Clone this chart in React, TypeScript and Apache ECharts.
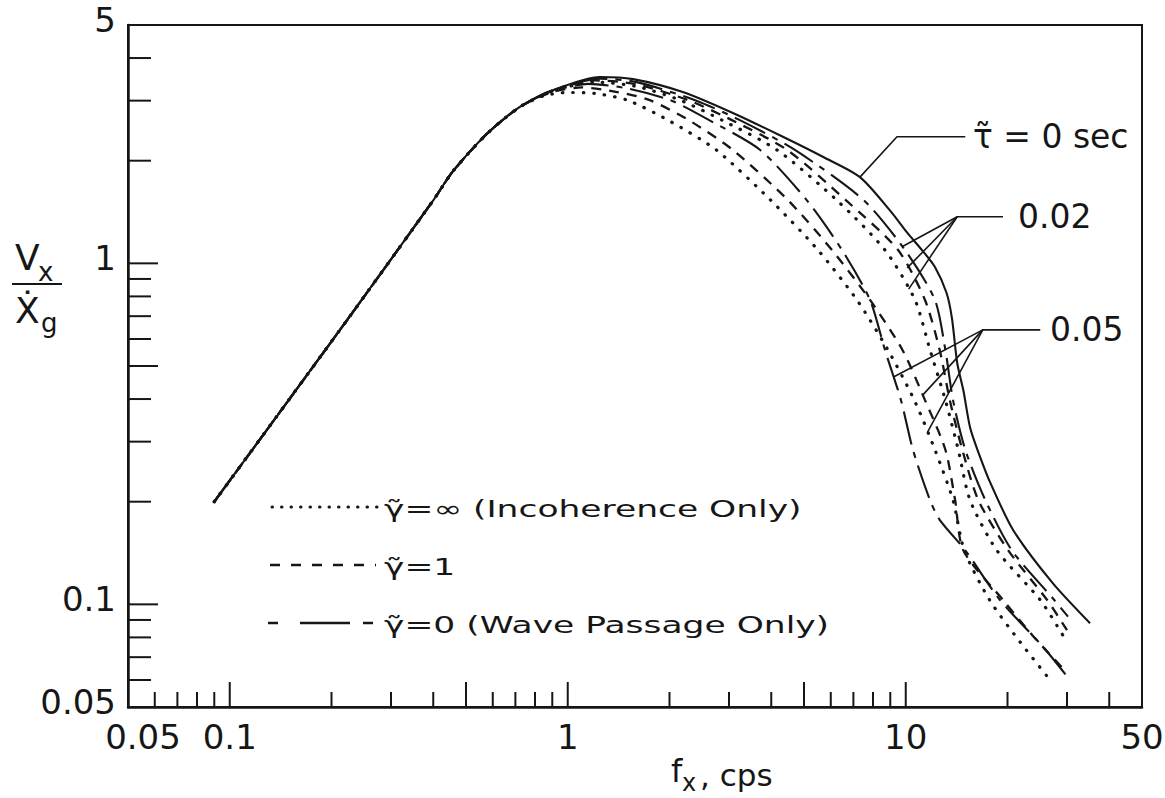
import React, { useEffect, useRef } from 'react';
import * as echarts from 'echarts';

// Response ratio V_x / Ẋ_g against frequency f_x (cps), as [f, ratio] pairs.
// All curves share the low-frequency rise, then split by delay τ̃ and coherence γ̃.
const SHARED_RISE: number[][] = [
  [0.09, 0.2], [0.222, 0.68], [0.4, 1.53], [0.457, 1.86], [0.577, 2.4], [0.72, 2.87],
];

const TAU_0: number[][] = [
  [0.905, 3.22], [1.245, 3.52], [1.56, 3.47], [2.19, 3.18], [3.08, 2.76], [4.33, 2.35],
  [5.7, 2.05], [7.32, 1.79], [8.98, 1.43], [10.1, 1.23], [11.2, 1.09], [12.2, 0.976],
  [13.2, 0.82], [13.7, 0.69], [14.2, 0.51], [14.8, 0.425], [15.5, 0.33], [16.3, 0.284],
  [17.8, 0.227], [20.8, 0.165], [27.3, 0.115], [35.1, 0.088],
];

const TAU_002_GAMMA_0: number[][] = [
  [0.9, 3.22], [1.25, 3.48], [1.6, 3.4], [2.38, 3.01], [3.23, 2.63], [4.7, 2.15],
  [7.52, 1.53], [9.95, 1.094], [12.2, 0.781], [13.1, 0.557], [13.8, 0.397], [15.0, 0.284],
  [17.2, 0.202], [20.6, 0.144], [27.5, 0.103], [30.2, 0.092],
];

const TAU_002_GAMMA_1: number[][] = [
  [0.9, 3.21], [1.2, 3.44], [1.6, 3.35], [2.27, 3.01], [3.06, 2.63], [4.46, 2.15],
  [6.66, 1.53], [9.49, 1.094], [11.4, 0.781], [12.6, 0.557], [13.5, 0.397], [14.7, 0.284],
  [16.4, 0.202], [20.1, 0.144], [26.2, 0.103], [30.0, 0.084],
];

const TAU_002_GAMMA_INF: number[][] = [
  [0.9, 3.2], [1.2, 3.4], [1.6, 3.3], [2.15, 3.01], [2.86, 2.63], [4.16, 2.15],
  [6.26, 1.53], [8.68, 1.094], [10.65, 0.781], [11.8, 0.557], [13.1, 0.397], [14.3, 0.284],
  [15.5, 0.202], [18.6, 0.144], [25.0, 0.103], [29.2, 0.081],
];

const TAU_005_GAMMA_0: number[][] = [
  [0.9, 3.2], [1.15, 3.36], [1.5, 3.26], [2.01, 3.01], [2.62, 2.63], [3.71, 2.15],
  [5.1, 1.53], [6.48, 1.094], [7.84, 0.781], [8.68, 0.557], [9.68, 0.397], [10.5, 0.284],
  [11.8, 0.202], [12.6, 0.177], [15.0, 0.144], [19.0, 0.103], [25.5, 0.075], [30.2, 0.061],
];

const TAU_005_GAMMA_1: number[][] = [
  [0.9, 3.18], [1.1, 3.28], [1.4, 3.18], [1.75, 3.01], [2.28, 2.63], [3.08, 2.15],
  [4.49, 1.53], [6.05, 1.094], [7.84, 0.781], [9.78, 0.557], [11.4, 0.397], [13.1, 0.284],
  [14.0, 0.202], [14.8, 0.144], [19.4, 0.103], [24.0, 0.08], [30.0, 0.063],
];

const TAU_005_GAMMA_INF: number[][] = [
  [0.85, 3.1], [1.0, 3.17], [1.2, 3.15], [1.5, 3.01], [1.98, 2.63], [2.75, 2.15],
  [3.99, 1.53], [5.5, 1.094], [7.17, 0.781], [8.86, 0.557], [10.6, 0.397], [12.2, 0.284],
  [13.8, 0.202], [14.9, 0.144], [17.7, 0.103], [21.8, 0.0775], [27.1, 0.059],
];

// Axis ranges, ticks and tick labels
const X_MIN = 0.05;
const X_MAX = 50;
const Y_MIN = 0.05;
const Y_MAX = 5;
const X_MAJOR_TICKS = [0.1, 0.5, 1, 5, 10];
const X_MINOR_TICKS = [0.06, 0.07, 0.08, 0.09, 0.2, 0.3, 0.4, 0.6, 0.7, 0.8, 0.9, 2, 3, 4, 6, 7, 8, 9, 20, 30, 40];
const Y_MAJOR_TICKS = [0.1, 0.5, 1];
const Y_MINOR_TICKS = [0.06, 0.07, 0.08, 0.09, 0.2, 0.3, 0.4, 0.6, 0.7, 0.8, 0.9, 2, 3, 4];
const X_TICK_LABELS = [0.05, 0.1, 1, 10, 50];
const Y_TICK_LABELS = [0.05, 0.1, 1, 5];

// Key and delay annotations
const LEGEND_LABELS = ['\u03B3\u0303=\u221E (Incoherence Only)', '\u03B3\u0303=1', '\u03B3\u0303=0 (Wave Passage Only)'];
const TAU_LABELS = ['\u03C4\u0303 = 0 sec', '0.02', '0.05'];
const TAU_LABEL_ANCHORS: number[][] = [[15.8, 2.35], [21.5, 1.37], [26.7, 0.638]];
const TAU_LEADERS: number[][][] = [
  [[7.32, 1.79], [9.42, 2.35], [15.0, 2.35]],
  [[19.4, 1.37], [14.2, 1.37], [9.78, 1.12]],
  [[14.2, 1.37], [10.1, 0.97]],
  [[14.2, 1.37], [10.2, 0.84]],
  [[25.0, 0.638], [16.9, 0.638], [9.2, 0.464]],
  [[16.9, 0.638], [11.2, 0.41]],
  [[16.9, 0.638], [11.6, 0.32]],
];

const INK = '#161616';
const FONT = '"DejaVu Sans", "Noto Sans", sans-serif';

const LINE_STYLES: Record<string, any> = {
  solid: { type: 'solid', width: 2.1 },
  dotted: { type: [0.5, 10], width: 3.2, cap: 'round' },
  dashed: { type: [10, 8], width: 2.3 },
  dashDot: { type: [34, 8, 6, 8], width: 2.1 },
};

const CURVES = [
  { name: 'τ=0', data: TAU_0, style: 'solid' },
  { name: 'τ=0.02 γ=0', data: TAU_002_GAMMA_0, style: 'dashDot' },
  { name: 'τ=0.02 γ=1', data: TAU_002_GAMMA_1, style: 'dashed' },
  { name: 'τ=0.02 γ=∞', data: TAU_002_GAMMA_INF, style: 'dotted' },
  { name: 'τ=0.05 γ=0', data: TAU_005_GAMMA_0, style: 'dashDot' },
  { name: 'τ=0.05 γ=1', data: TAU_005_GAMMA_1, style: 'dashed' },
  { name: 'τ=0.05 γ=∞', data: TAU_005_GAMMA_INF, style: 'dotted' },
];

function formatTick(v: number): string {
  return String(v);
}

function tickSeries(values: number[], axis: 'x' | 'y', len: number) {
  return {
    type: 'custom',
    silent: true,
    z: 6,
    data: values.map((v) => (axis === 'x' ? [v, Y_MIN] : [X_MIN, v])),
    renderItem: (_params: any, api: any) => {
      const p = api.coord([api.value(0), api.value(1)]);
      const shape = axis === 'x'
        ? { x1: p[0], y1: p[1], x2: p[0], y2: p[1] - len }
        : { x1: p[0], y1: p[1], x2: p[0] + len, y2: p[1] };
      return { type: 'line', shape, style: { stroke: INK, lineWidth: 2 } };
    },
  };
}

function tickLabelSeries(values: number[], axis: 'x' | 'y') {
  return {
    type: 'custom',
    silent: true,
    z: 6,
    data: values.map((v) => (axis === 'x' ? [v, Y_MIN] : [X_MIN, v])),
    renderItem: (params: any, api: any) => {
      const p = api.coord([api.value(0), api.value(1)]);
      const v = values[params.dataIndex];
      if (axis === 'x') {
        const shift = v === X_MIN ? 15 : 0;
        return {
          type: 'text',
          x: p[0] + shift,
          y: p[1] + 30,
          style: {
            text: formatTick(v), fill: INK, fontSize: 34, fontFamily: FONT,
            align: 'center', verticalAlign: 'middle', textAlign: 'center', textVerticalAlign: 'middle',
          },
        };
      }
      return {
        type: 'text',
        x: p[0] - 12,
        y: p[1] - 5,
        style: {
          text: formatTick(v), fill: INK, fontSize: 34, fontFamily: FONT,
          align: 'right', verticalAlign: 'middle', textAlign: 'right', textVerticalAlign: 'middle',
        },
      };
    },
  };
}

function buildOption() {
  const curveSeries = CURVES.map((c, i) => ({
    type: 'line',
    name: c.name,
    data: SHARED_RISE.concat(c.data),
    showSymbol: false,
    smooth: 0.25,
    silent: true,
    z: i === 0 ? 4 : 3,
    lineStyle: { color: INK, ...LINE_STYLES[c.style] },
  }));

  const leaderSeries = TAU_LEADERS.map((pts) => ({
    type: 'line',
    data: pts,
    showSymbol: false,
    silent: true,
    z: 3,
    lineStyle: { color: INK, width: 1.6, type: 'solid' },
  }));

  const tauLabelSeries = {
    type: 'custom',
    silent: true,
    z: 6,
    data: TAU_LABEL_ANCHORS,
    renderItem: (params: any, api: any) => {
      const p = api.coord([api.value(0), api.value(1)]);
      return {
        type: 'text',
        x: p[0],
        y: p[1],
        style: {
          text: TAU_LABELS[params.dataIndex], fill: INK, fontSize: 33, fontFamily: FONT,
          align: 'left', verticalAlign: 'middle', textAlign: 'left', textVerticalAlign: 'middle',
        },
      };
    },
  };

  const legendText = (text: string, y: number) => ({
    type: 'text',
    x: 384,
    y,
    scaleX: 1.5,
    style: {
      text, fill: INK, fontSize: 23, fontFamily: FONT,
      align: 'left', verticalAlign: 'middle', textAlign: 'left', textVerticalAlign: 'middle',
    },
  });

  const plainText = (text: string, x: number, y: number, size: number) => ({
    type: 'text',
    x,
    y,
    style: {
      text, fill: INK, fontSize: size, fontFamily: FONT,
      align: 'left', verticalAlign: 'middle', textAlign: 'left', textVerticalAlign: 'middle',
    },
  });

  return {
    animation: false,
    backgroundColor: '#ffffff',
    grid: {
      left: 128, top: 25, right: 23, bottom: 91,
      show: true, borderColor: INK, borderWidth: 2, containLabel: false, outerBoundsMode: 'none',
    },
    xAxis: {
      type: 'log', logBase: 10, min: X_MIN, max: X_MAX,
      axisLine: { show: true, lineStyle: { color: INK, width: 2.5 } },
      axisTick: { show: false }, axisLabel: { show: false },
      splitLine: { show: false }, minorTick: { show: false }, minorSplitLine: { show: false },
    },
    yAxis: {
      type: 'log', logBase: 10, min: Y_MIN, max: Y_MAX,
      axisLine: { show: true, lineStyle: { color: INK, width: 2.5 } },
      axisTick: { show: false }, axisLabel: { show: false },
      splitLine: { show: false }, minorTick: { show: false }, minorSplitLine: { show: false },
    },
    series: [
      ...curveSeries,
      ...leaderSeries,
      tauLabelSeries,
      tickSeries(X_MAJOR_TICKS, 'x', 25),
      tickSeries(X_MINOR_TICKS, 'x', 15),
      tickSeries(Y_MAJOR_TICKS, 'y', 30),
      tickSeries(Y_MINOR_TICKS, 'y', 23),
      tickLabelSeries(X_TICK_LABELS, 'x'),
      tickLabelSeries(Y_TICK_LABELS, 'y'),
    ],
    graphic: [
      // key samples
      { type: 'line', shape: { x1: 272, y1: 507, x2: 380, y2: 507 }, style: { stroke: INK, lineWidth: 3, lineDash: [0.5, 9], lineCap: 'round' } },
      { type: 'line', shape: { x1: 270, y1: 565, x2: 376, y2: 565 }, style: { stroke: INK, lineWidth: 2.3, lineDash: [10, 11] } },
      { type: 'line', shape: { x1: 268, y1: 623, x2: 373, y2: 623 }, style: { stroke: INK, lineWidth: 2.3, lineDash: [10, 22, 50, 13, 10, 60] } },
      legendText(LEGEND_LABELS[0], 509),
      legendText(LEGEND_LABELS[1], 567),
      legendText(LEGEND_LABELS[2], 625),
      // vertical axis title: V_x over Ẋ_g
      plainText('V', 15, 257, 36),
      plainText('x', 38, 272, 26),
      { type: 'line', shape: { x1: 12, y1: 284, x2: 62, y2: 284 }, style: { stroke: INK, lineWidth: 2 } },
      plainText('\u1E8A', 15, 310, 36),
      plainText('g', 41, 323, 26),
      // horizontal axis title: f_x, cps
      plainText('f', 671, 771, 32),
      plainText('x', 682, 783, 24),
      plainText(', cps', 700, 775, 31),
    ],
  };
}

export default function App() {
  const ref = useRef<HTMLDivElement>(null);

  useEffect(() => {
    if (!ref.current) return;
    const chart = echarts.init(ref.current, null, { renderer: 'svg' });
    chart.setOption(buildOption() as any);
    return () => chart.dispose();
  }, []);

  return (
    <div
      ref={ref}
      style={{ position: 'fixed', left: 0, top: 0, width: 1165, height: 798, background: '#ffffff' }}
    />
  );
}
